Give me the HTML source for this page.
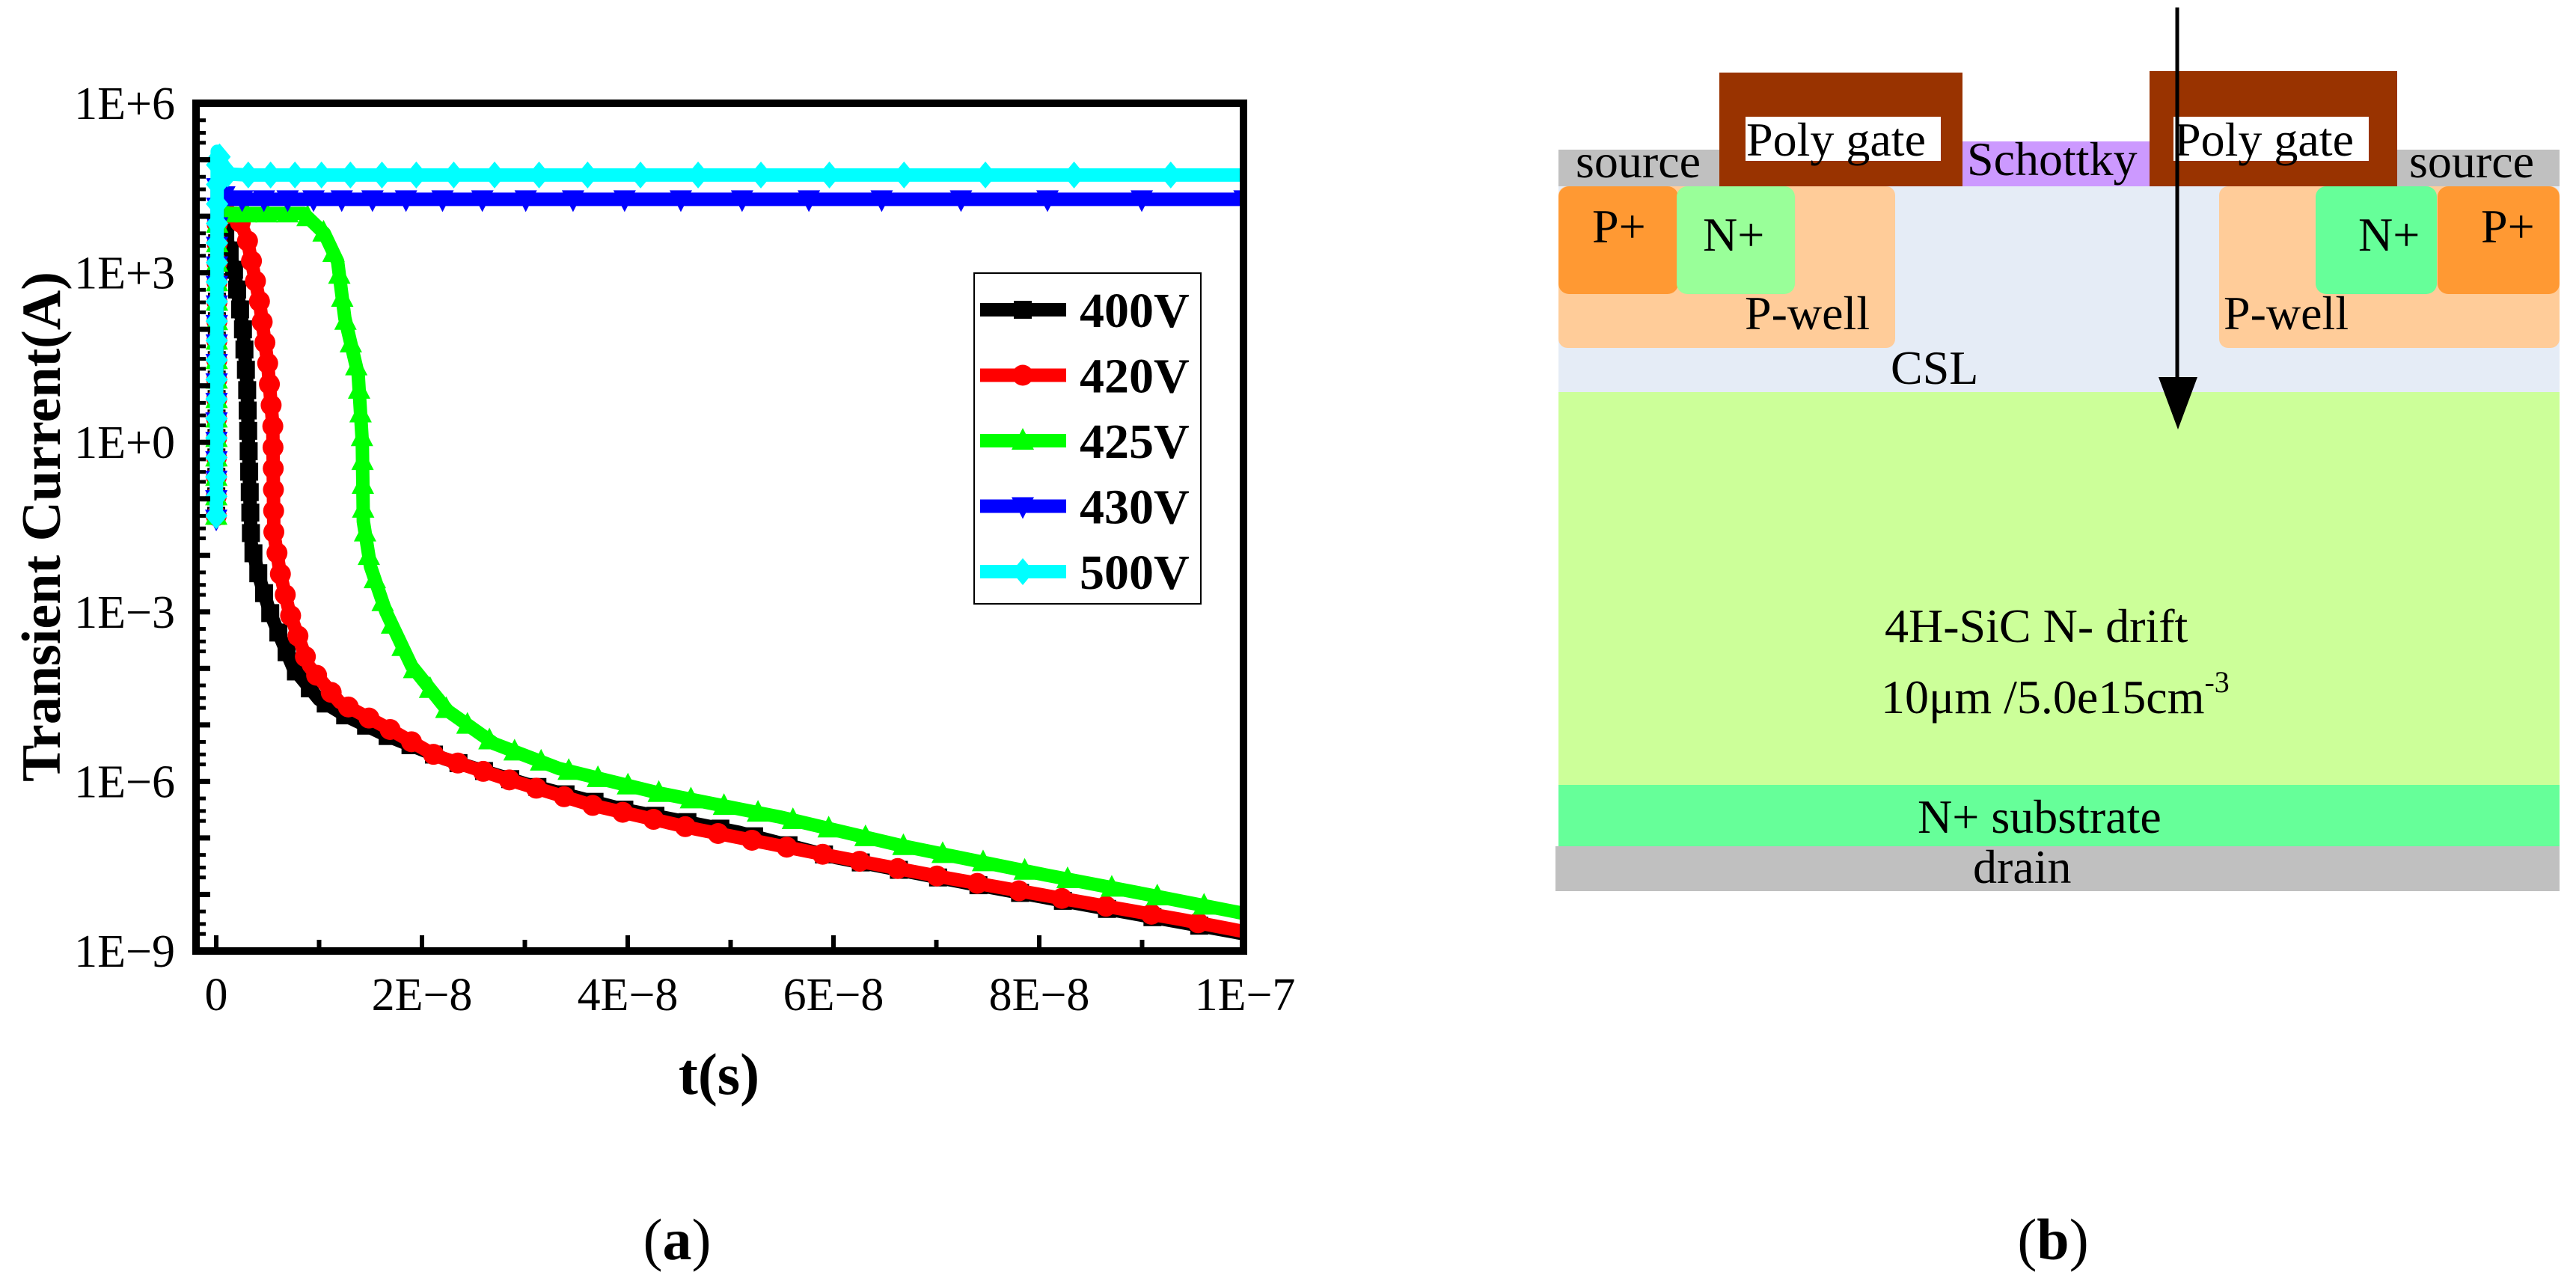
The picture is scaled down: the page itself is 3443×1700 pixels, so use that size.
<!DOCTYPE html>
<html><head><meta charset="utf-8"><style>
html,body{margin:0;padding:0;background:#fff;}
svg{display:block;}
svg, svg text, svg tspan{font-family:"Liberation Serif","Noto Serif CJK SC","DejaVu Serif",serif !important;}
</style></head><body>
<svg id="fig" width="3443" height="1700" viewBox="0 0 3443 1700" xmlns="http://www.w3.org/2000/svg">
<defs><clipPath id="plotclip"><rect x="270" y="143" width="1388" height="1124"/></clipPath></defs>
<g id="chart">
  <g id="series" clip-path="url(#plotclip)"></g>
  <rect x="262" y="138" width="1400" height="1133" fill="none" stroke="#000" stroke-width="10"/>
  <g id="ticks"></g>
  <text x="0" y="0" transform="translate(80,704) rotate(-90)" text-anchor="middle" font-size="74" font-weight="bold">Transient Current(A)</text>
  <text x="961" y="1462" text-anchor="middle" font-size="78" font-weight="bold">t(s)</text>
  <g id="legend">
    <rect x="1302" y="365" width="303" height="442" fill="#fff" stroke="#000" stroke-width="2"/>
  </g>
  <text x="905" y="1683" text-anchor="middle" font-size="78">(<tspan font-weight="bold">a</tspan>)</text>
</g>
<g id="device">
  <rect x="2083" y="249" width="1338" height="280" fill="#e5ecf6"/>
  <rect x="2083" y="524" width="1338" height="527" fill="#ccff99"/>
  <rect x="2083" y="1049" width="1338" height="83" fill="#66ff99"/>
  <rect x="2079" y="1131" width="1342" height="60" fill="#c0c0c0"/>
  <rect x="2083" y="249" width="450" height="216" rx="12" fill="#ffcc99"/>
  <rect x="2966" y="249" width="455" height="216" rx="12" fill="#ffcc99"/>
  <rect x="2083" y="249" width="160" height="144" rx="14" fill="#ff9933"/>
  <rect x="2241" y="249" width="158" height="144" rx="14" fill="#99ff99"/>
  <rect x="3095" y="249" width="162" height="144" rx="14" fill="#66ff99"/>
  <rect x="3258" y="249" width="163" height="144" rx="14" fill="#ff9933"/>
  <rect x="2083" y="200" width="215" height="49" fill="#c0c0c0"/>
  <rect x="3204" y="200" width="217" height="49" fill="#c0c0c0"/>
  <rect x="2623" y="189" width="252" height="60" fill="#cc99ff"/>
  <rect x="2298" y="97" width="325" height="152" fill="#993300"/>
  <rect x="2873" y="95" width="331" height="154" fill="#993300"/>
  <rect x="2333" y="156" width="261" height="59" fill="#fff"/>
  <rect x="2905" y="156" width="261" height="59" fill="#fff"/>
  <g font-size="64" fill="#000">
    <text x="2106" y="237">source</text>
    <text x="3220" y="237">source</text>
    <text x="2334" y="208">Poly gate</text>
    <text x="2906" y="208">Poly gate</text>
    <text x="2629" y="234">Schottky</text>
    <text x="2128" y="324">P+</text>
    <text x="2276" y="335">N+</text>
    <text x="3152" y="335">N+</text>
    <text x="3316" y="324">P+</text>
    <text x="2332" y="440">P-well</text>
    <text x="2972" y="440">P-well</text>
    <text x="2527" y="513">CSL</text>
    <text x="2519" y="858">4H-SiC N- drift</text>
    <text x="2514" y="953">10μm /5.0e15cm<tspan font-size="40" dy="-28">-3</tspan></text>
    <text x="2563" y="1113">N+ substrate</text>
    <text x="2637" y="1180">drain</text>
  </g>
  <line x1="2910" y1="10" x2="2910" y2="510" stroke="#000" stroke-width="5"/>
  <polygon points="2885,504 2937,504 2911,574" fill="#000"/>
  <text x="2744" y="1683" text-anchor="middle" font-size="78">(<tspan font-weight="bold">b</tspan>)</text>
</g>
</svg>
<script>
// time in units of 1E-8 s, current as log10(A)
const seriesNames = ["400V", "420V", "425V", "430V", "500V"];
const t400 = [0, 0.01, 0.08, 0.18, 0.26, 0.30, 0.32, 0.34, 0.42, 0.52, 0.75, 1.0, 1.27, 1.67, 2.22, 3.02, 3.97, 5.08, 6.03, 7.3, 8.49, 10];
const i400 = [-1.3, 3.95, 3.8, 3.0, 2.0, 1.0, -0.5, -1.8, -2.4, -3.0, -4.0, -4.55, -4.85, -5.2, -5.6, -6.05, -6.5, -6.9, -7.35, -7.8, -8.2, -8.7];
const t420 = [0, 0.01, 0.2, 0.3, 0.42, 0.5, 0.55, 0.56, 0.62, 0.71, 0.9, 1.2, 1.66, 2.14, 2.86, 3.65, 4.68, 5.87, 7.14, 8.25, 9.37, 10];
const i420 = [-1.3, 4.05, 4.05, 3.6, 2.5, 1.4, 0.3, -1.6, -2.3, -3.0, -3.96, -4.6, -5.05, -5.55, -5.98, -6.42, -6.85, -7.28, -7.72, -8.08, -8.44, -8.66];
const t425 = [0, 0.01, 0.85, 1.05, 1.18, 1.25, 1.38, 1.42, 1.43, 1.5, 1.65, 1.9, 2.25, 2.7, 3.33, 4.29, 5.48, 6.67, 8.02, 9.05, 10];
const i425 = [-1.3, 4.05, 4.05, 3.7, 3.2, 2.2, 1.2, 0.0, -1.4, -2.2, -3.0, -3.96, -4.75, -5.33, -5.77, -6.2, -6.63, -7.14, -7.64, -8.0, -8.34];
const t430 = [0, 0.01, 0.1, 10];
const i430 = [-1.35, 4.6, 4.3, 4.3];
const t500 = [0, 0.01, 0.1, 0.3, 10];
const i500 = [-1.3, 5.15, 4.75, 4.73, 4.73];
const yTickLabels = ["1E+6", "1E+3", "1E+0", "1E\u22123", "1E\u22126", "1E\u22129"];
const yTickValues = [6, 3, 0, -3, -6, -9];
const xTickLabels = ["0", "2E\u22128", "4E\u22128", "6E\u22128", "8E\u22128", "1E\u22127"];
const xTickValues = [0, 2, 4, 6, 8, 10];

const NS = "http://www.w3.org/2000/svg";
function xs(t) { return 289 + t * 137.5; }
function ys(l) { return 138 + (6 - l) * 75.53; }
function mk(tag, attrs, parent) {
  const el = document.createElementNS(NS, tag);
  for (const k in attrs) el.setAttribute(k, attrs[k]);
  parent.appendChild(el);
  return el;
}
function marker(shape, cx, cy, color, parent) {
  let el;
  if (shape === "square") el = mk("rect", {x: cx - 12, y: cy - 12, width: 24, height: 24, fill: color}, parent);
  else if (shape === "circle") el = mk("circle", {cx: cx, cy: cy, r: 14, fill: color}, parent);
  else if (shape === "up") el = mk("polygon", {points: `${cx},${cy - 17} ${cx + 15},${cy + 12} ${cx - 15},${cy + 12}`, fill: color}, parent);
  else if (shape === "down") el = mk("polygon", {points: `${cx},${cy + 17} ${cx + 15},${cy - 12} ${cx - 15},${cy - 12}`, fill: color}, parent);
  else el = mk("polygon", {points: `${cx},${cy - 18} ${cx + 15},${cy} ${cx},${cy + 18} ${cx - 15},${cy}`, fill: color}, parent);
  
  
  return el;
}
const sLayer = document.getElementById("series");
const allT = [t400, t420, t425, t430, t500];
const allI = [i400, i420, i425, i430, i500];
const colors = ["#000000", "#ff0000", "#00ff00", "#0000ff", "#00ffff"];
const shapes = ["square", "circle", "up", "down", "diamond"];
const spacingGrowth = [0.03, 0.03, 0.03, 0.09, 0.09];
for (let s = 0; s < 5; s++) {
  const g = mk("g", {}, sLayer);
  
  
  const pts = allT[s].map((t, i) => [xs(t), ys(allI[s][i])]);
  const line = mk("polyline", {points: pts.map(p => p.join(",")).join(" "), fill: "none", stroke: colors[s], "stroke-width": 18, "stroke-linejoin": "round"}, g);
  
  
  let next = 0, acc = 0;
  for (let i = 0; i < pts.length - 1; i++) {
    const [x1, y1] = pts[i], [x2, y2] = pts[i + 1];
    const L = Math.hypot(x2 - x1, y2 - y1);
    let pos = next - acc;
    while (pos <= L) {
      const f = L ? pos / L : 0;
      const mx = x1 + (x2 - x1) * f, my = y1 + (y2 - y1) * f;
      marker(shapes[s], mx, my, colors[s], g);
      const step = 26 + (mx - 289) * spacingGrowth[s];
      next += step; pos += step;
    }
    acc += L;
  }
}
const tg = document.getElementById("ticks");
for (let k = 0; k < yTickValues.length; k++) {
  const y = ys(yTickValues[k]);
  const lab = mk("text", {x: 234, y: y + 21, "text-anchor": "end", "font-size": 62}, tg);
  lab.textContent = yTickLabels[k];
  
  
}
for (let d = -9; d <= 6; d++) {
  const y = ys(d);
  const tk = mk("line", {x1: 267, x2: 281, y1: y, y2: y, stroke: "#000", "stroke-width": 7}, tg);
  
  
  if (d < 6) {
    [2, 3, 5].forEach(m => {
      const ym = ys(d + Math.log10(m));
      const mt = mk("line", {x1: 267, x2: 275, y1: ym, y2: ym, stroke: "#000", "stroke-width": 5}, tg);
      
      
    });
  }
}
for (let k = 0; k < xTickValues.length; k++) {
  const x = xs(xTickValues[k]);
  const lab = mk("text", {x: x, y: 1350, "text-anchor": "middle", "font-size": 62}, tg);
  lab.textContent = xTickLabels[k];
  
  
}
for (let t = 0; t <= 10; t++) {
  const x = xs(t);
  const len = t % 2 === 0 ? 16 : 10;
  const tk = mk("line", {x1: x, x2: x, y1: 1266, y2: 1266 - len, stroke: "#000", "stroke-width": 6}, tg);
  
  
}
const lg = document.getElementById("legend");
for (let s = 0; s < 5; s++) {
  const y = 414 + s * 87.5;
  const e = mk("g", {}, lg);
  
  
  const ln = mk("line", {x1: 1310, x2: 1425, y1: y, y2: y, stroke: colors[s], "stroke-width": 18}, e);
  
  
  marker(shapes[s], 1367, y, colors[s], e);
  const tx = mk("text", {x: 1443, y: y + 23, "font-size": 66, "font-weight": "bold"}, e);
  tx.textContent = seriesNames[s];
  
  
}
</script>
</body></html>
